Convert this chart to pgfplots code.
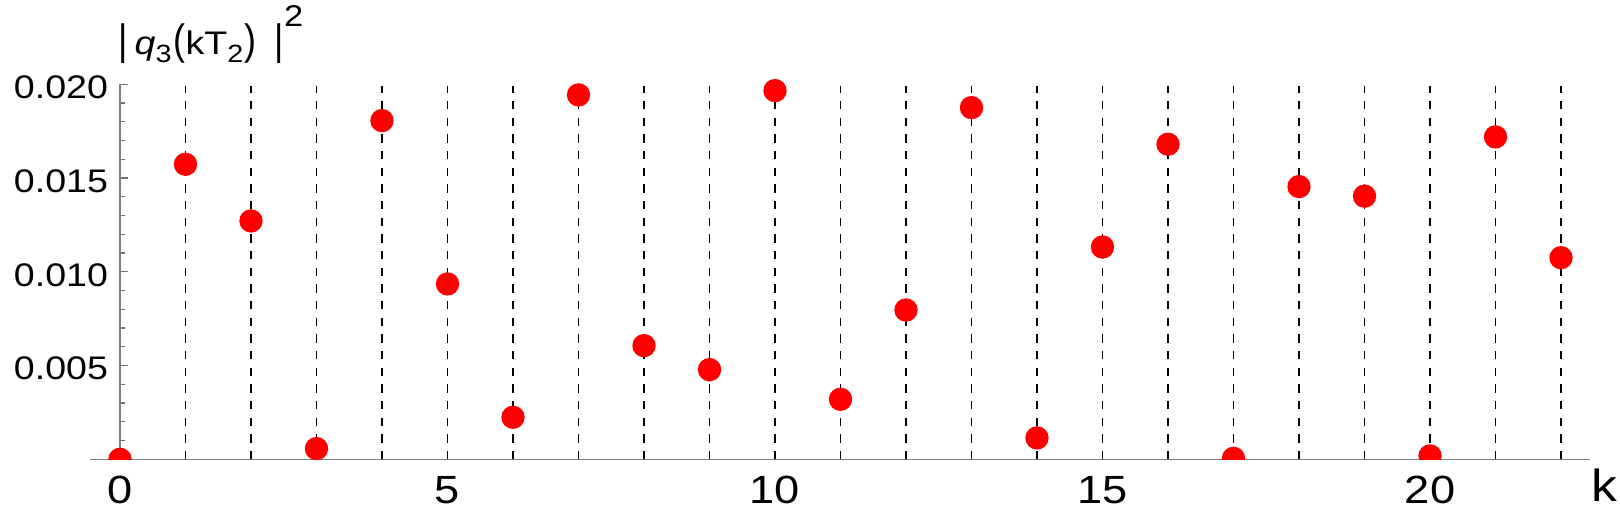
\documentclass[border=0pt]{standalone}
\usepackage{fontspec}
\setmainfont{Liberation Sans}
\usepackage{graphicx}
\usepackage{pgfplots}
\pgfplotsset{compat=1.18}

% the reference type is a little wider than Arial
\newcommand{\sx}[1]{\scalebox{1.15}[1]{#1}}
\newcommand{\bigdelim}[1]{\scalebox{1.1}[1.3]{#1}}

\begin{document}
\fontsize{10}{12}\selectfont
\begin{tikzpicture}
\begin{axis}[
    at={(0,0)}, anchor=south west,
    scale only axis, width=450pt, height=115.9pt,
    xmin=-0.458, xmax=22.443, ymin=0, ymax=0.0206,
    clip=true, clip marker paths=true,
    axis lines=middle,
    axis line style={-, black!50, line width=0.4pt},
    every inner x axis line/.append style={-},
    every inner y axis line/.append style={-},
    y axis line style={shorten >=3.375pt},
    xtick={0,5,10,15,20},
    xticklabels={,\sx{5},\sx{10},\sx{15},\sx{20}},
    minor xtick={1,2,3,4,6,7,8,9,11,12,13,14,16,17,18,19,21,22},
    ytick={0.005,0.010,0.015,0.020},
    yticklabels={\sx{0.005},\sx{0.010},\sx{0.015},\sx{0.020}},
    minor ytick={0.001,0.002,0.003,0.004,0.006,0.007,0.008,0.009,0.011,0.012,0.013,0.014,0.016,0.017,0.018,0.019},
    scaled y ticks=false,
    tick align=inside,
    major tick length=2.4pt, minor tick length=1.5pt,
    tick style={black!55, line width=0.4pt},
    xticklabel style={font=\fontsize{11.8}{13}\selectfont, anchor=base, inner sep=0pt, yshift=-13.2pt},
    yticklabel style={font=\fontsize{9.8}{11}\selectfont, anchor=base east, inner sep=0pt, xshift=-3.4pt, yshift=-4.3pt},
    xlabel={\sx{k}},
    xlabel style={font=\fontsize{13.5}{15}\selectfont, at={(rel axis cs:1,0)}, anchor=base west, inner sep=0pt, xshift=0.3pt, yshift=-12.8pt},
    ylabel={\bigdelim{\textbar}\hspace{2pt}\sx{\textit{q}}\raisebox{-2.2pt}{\fontsize{7.5}{8}\selectfont\sx{3}}\hspace{0.6pt}\bigdelim{(}\sx{kT}\raisebox{-2.2pt}{\fontsize{7.5}{8}\selectfont\sx{2}}\hspace{0.3pt}\bigdelim{)}\hspace{5.6pt}\bigdelim{\textbar}\raisebox{8.5pt}{\fontsize{9}{10}\selectfont\sx{2}}},
    ylabel style={font=\fontsize{9.8}{11}\selectfont, at={(axis description cs:0.02,0.9709)}, anchor=base west, rotate=0, inner sep=0pt, xshift=-0.6pt, yshift=8.8pt},
]

% vertical guide lines
\addplot[ycomb, no marks, black, line width=0.35pt, dash pattern=on 2.5pt off 2.5pt] coordinates {
    (1,0.0199) (2,0.0199) (3,0.0199) (4,0.0199) (5,0.0199) (6,0.0199)
    (7,0.0199) (8,0.0199) (9,0.0199) (10,0.0199) (11,0.0199) (12,0.0199)
    (13,0.0199) (14,0.0199) (15,0.0199) (16,0.0199) (17,0.0199) (18,0.0199)
    (19,0.0199) (20,0.0199) (21,0.0199) (22,0.0199)
};

% |q3(kT2)|^2
\addplot[only marks, mark=*, mark size=3.3pt, color=red, fill=red] coordinates {
    (0,0) (1,0.01573) (2,0.01271) (3,0.00057) (4,0.01806) (5,0.00935)
    (6,0.00224) (7,0.01943) (8,0.00606) (9,0.00478) (10,0.01966)
    (11,0.00320) (12,0.00796) (13,0.01875) (14,0.00114) (15,0.01132)
    (16,0.01680) (17,0.00005) (18,0.01454) (19,0.01403) (20,0.00018)
    (21,0.01719) (22,0.01075)
};

\end{axis}
% tick label 0 under the vertical axis (x = 0 lies 9pt right of the axis box edge)
\node[font=\fontsize{11.8}{13}\selectfont, anchor=base, inner sep=0pt] at (9pt,-13.2pt) {\sx{0}};
\pgfresetboundingbox
\path (-27pt,-16.41pt) rectangle (459pt,137.79pt);
\end{tikzpicture}
\end{document}
